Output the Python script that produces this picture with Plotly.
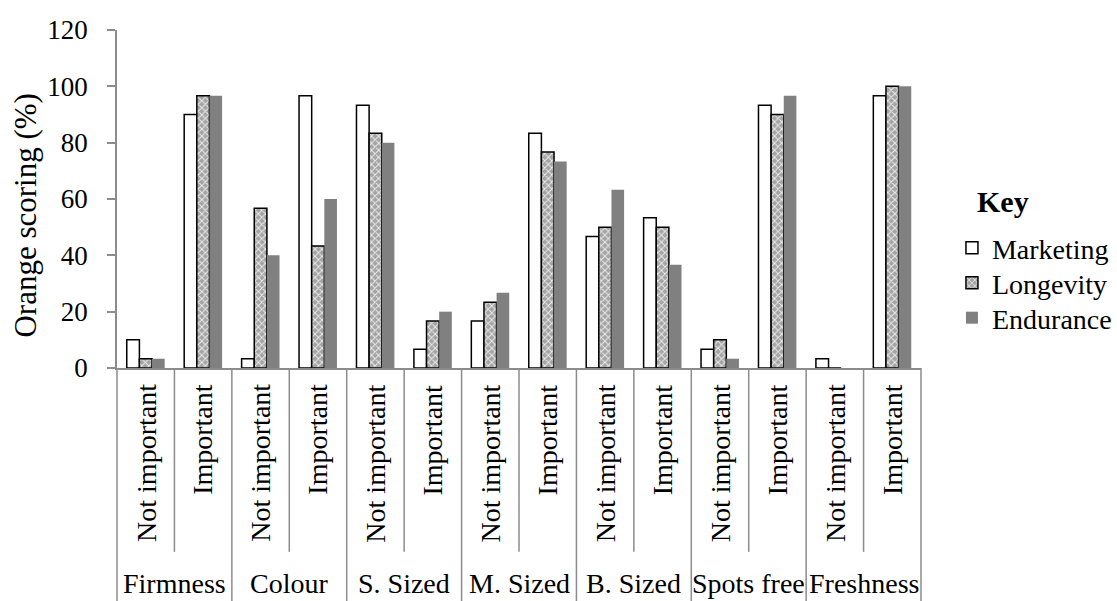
import plotly.graph_objects as go

# Attribute groups and their two rating levels
groups = ["Firmness", "Colour", "S. Sized", "M. Sized", "B. Sized", "Spots free", "Freshness"]
levels = ["Not important", "Important"]

# Percentage of oranges scored per level, in group order
marketing = [10, 90, 3.3, 96.7, 93.3, 6.7, 16.7, 83.3, 46.7, 53.3, 6.7, 93.3, 3.3, 96.7]
longevity = [3.3, 96.7, 56.7, 43.3, 83.3, 16.7, 23.3, 76.7, 50, 50, 10, 90, 0, 100]
endurance = [3.3, 96.7, 40, 60, 80, 20, 26.7, 73.3, 63.3, 36.7, 3.3, 96.7, 0, 100]

y_ticks = [0, 20, 40, 60, 80, 100, 120]

FONT = "'Times New Roman', 'Liberation Serif', serif"
AXIS_GREY = "#8c8c8c"
FS_TICK = 27
FS_CAT = 28
FS_LEG = 28
FS_TITLE = 31

n_cells = len(groups) * len(levels)
xpos = list(range(n_cells))
x_lo, x_hi = -0.5, n_cells - 0.5

fig = go.Figure()
fig.add_bar(
    x=xpos, y=marketing, name="Marketing", legend="legend",
    marker=dict(color="white", line=dict(color="black", width=1.5)),
)
fig.add_bar(
    x=xpos, y=longevity, name="Longevity", legend="legend2",
    marker=dict(
        color="#a8a8a8",
        line=dict(color="black", width=1.5),
        pattern=dict(shape="x", fgcolor="#ececec", bgcolor="#a4a4a4",
                     size=5, solidity=0.35, fillmode="replace"),
    ),
)
fig.add_bar(
    x=xpos, y=endurance, name="Endurance", legend="legend3",
    marker=dict(color="#808080", line=dict(width=0)),
)


def to_paper(xv):
    """Convert a category-axis value to a paper fraction."""
    return (xv - x_lo) / (x_hi - x_lo)


shapes = []
# Vertical dividers under the axis: short ones between levels, long ones between groups
for k in range(n_cells + 1):
    outer = (k % 2 == 0)
    shapes.append(dict(
        type="line", xref="paper", yref="paper",
        x0=to_paper(k - 0.5), x1=to_paper(k - 0.5),
        y0=0, y1=-0.70 if outer else -0.544,
        line=dict(color=AXIS_GREY, width=1.5),
    ))

annotations = []
# Level labels, rotated
for i in range(n_cells):
    annotations.append(dict(
        x=i, xref="x", y=-0.042, yref="paper",
        text=levels[i % 2], textangle=-90,
        xanchor="center", yanchor="top", showarrow=False,
        font=dict(family=FONT, size=FS_CAT, color="black"),
    ))
# Group labels
for g, name in enumerate(groups):
    annotations.append(dict(
        x=2 * g + 0.5, xref="x", y=-0.688, yref="paper",
        text=name, xanchor="center", yanchor="bottom", showarrow=False,
        font=dict(family=FONT, size=FS_CAT, color="black"),
    ))
# Y axis title
annotations.append(dict(
    x=-0.114, xref="paper", y=0.452, yref="paper",
    text="Orange scoring (%)", textangle=-90,
    xanchor="center", yanchor="middle", showarrow=False,
    font=dict(family=FONT, size=FS_TITLE, color="black"),
))
# Legend heading
annotations.append(dict(
    x=1.1015, xref="paper", y=0.492, yref="paper",
    text="<b>Key</b>", xanchor="center", yanchor="middle", showarrow=False,
    font=dict(family=FONT, size=30, color="black"),
))

legend_style = dict(
    x=1.0385, xanchor="left", yanchor="middle",
    font=dict(family=FONT, size=FS_LEG, color="black"),
    bgcolor="rgba(0,0,0,0)",
)

fig.update_layout(
    width=1117, height=601,
    margin=dict(l=117, r=196, t=30, b=233, pad=0, autoexpand=False),
    paper_bgcolor="white", plot_bgcolor="white",
    barmode="group", bargap=0.34, bargroupgap=0,
    font=dict(family=FONT, size=FS_TICK, color="black"),
    showlegend=True,
    legend=dict(y=0.355, **legend_style),
    legend2=dict(y=0.251, **legend_style),
    legend3=dict(y=0.148, **legend_style),
    xaxis=dict(
        range=[x_lo, x_hi], showticklabels=False, ticks="",
        showline=True, linecolor=AXIS_GREY, linewidth=1.5,
        showgrid=False, zeroline=False,
    ),
    yaxis=dict(
        range=[0, 120], tickvals=y_ticks, ticktext=[str(v) for v in y_ticks],
        ticks="outside", ticklen=8, tickcolor=AXIS_GREY, tickwidth=1.5,
        ticklabelstandoff=14,
        showline=True, linecolor=AXIS_GREY, linewidth=1.5,
        showgrid=False, zeroline=False,
        tickfont=dict(family=FONT, size=FS_TICK, color="black"),
    ),
    shapes=shapes,
    annotations=annotations,
)

fig.write_html("out.html")
